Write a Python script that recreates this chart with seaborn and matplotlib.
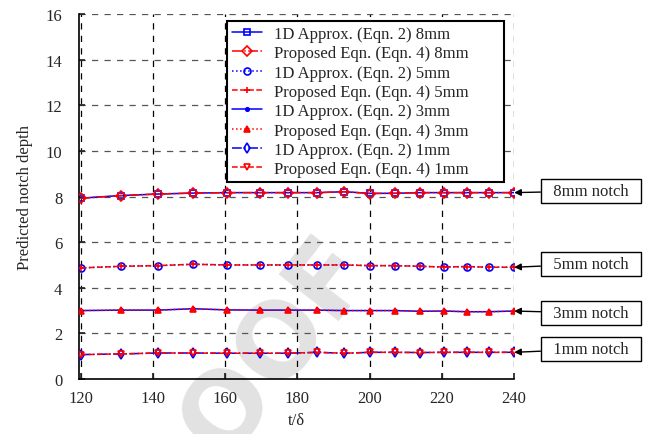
# Predicted notch depth vs t/delta for four notch sizes

import matplotlib
matplotlib.use("Agg")
import matplotlib.pyplot as plt
import seaborn as sns

# ── Data ───────────────────────────────────────────────────────
t_delta = [120, 131, 141.5, 151, 160.5, 169.5, 177.5, 185.5,
           193, 200, 207, 214, 220.5, 227, 233, 240]

d8_1d   = [7.93, 8.04, 8.11, 8.15, 8.17, 8.17, 8.17, 8.17,
           8.21, 8.14, 8.14, 8.17, 8.17, 8.17, 8.17, 8.17]
d8_prop = [7.92, 8.04, 8.11, 8.15, 8.17, 8.17, 8.17, 8.17,
           8.21, 8.13, 8.14, 8.17, 8.17, 8.17, 8.17, 8.17]
d5_1d   = [4.87, 4.94, 4.97, 5.03, 5.00, 5.00, 5.00, 5.00,
           5.00, 4.97, 4.97, 4.94, 4.91, 4.93, 4.90, 4.90]
d5_prop = [4.87, 4.94, 4.97, 5.03, 5.00, 5.00, 5.00, 5.00,
           5.00, 4.97, 4.97, 4.94, 4.91, 4.93, 4.90, 4.90]
d3_1d   = [3.00, 3.02, 3.02, 3.08, 3.03, 3.02, 3.02, 3.02,
           3.00, 3.00, 3.00, 2.97, 2.98, 2.95, 2.95, 2.98]
d3_prop = [3.00, 3.02, 3.02, 3.08, 3.03, 3.02, 3.02, 3.02,
           3.00, 3.00, 3.00, 2.97, 2.98, 2.95, 2.95, 2.98]
d1_1d   = [1.07, 1.10, 1.14, 1.14, 1.13, 1.13, 1.13, 1.17,
           1.13, 1.17, 1.17, 1.16, 1.17, 1.17, 1.17, 1.17]
d1_prop = [1.07, 1.10, 1.14, 1.14, 1.13, 1.13, 1.13, 1.17,
           1.13, 1.17, 1.17, 1.16, 1.17, 1.17, 1.17, 1.17]

notch_labels = ["8mm notch", "5mm notch", "3mm notch", "1mm notch"]

# ── Style ──────────────────────────────────────────────────────
sns.set_theme(style="white")
plt.rcParams.update({
    "font.family": ["Liberation Serif", "DejaVu Serif"],
    "font.size": 12,
})

fig = plt.figure(figsize=(6.5, 4.35), dpi=100)
ax = fig.add_axes([0.1215, 0.1264, 0.6695, 0.8391])
ax.set_zorder(1)
ax.patch.set_alpha(0)

# faint watermark behind everything
fig.text(0.351, 0.069, "PROOF", rotation=52, fontsize=74,
         fontweight="bold", family="DejaVu Sans", color="#e2e2e2",
         ha="center", va="center", zorder=0)

series = [
    (d8_1d,   "1D Approx. (Eqn. 2) 8mm",       "blue", "-",  "s", "none"),
    (d8_prop, "Proposed Eqn. (Eqn. 4) 8mm",    "red",  "-.", "D", "none"),
    (d5_1d,   "1D Approx. (Eqn. 2) 5mm",       "blue", ":",  "o", "none"),
    (d5_prop, "Proposed Eqn. (Eqn. 4) 5mm",    "red",  "--", "+", "red"),
    (d3_1d,   "1D Approx. (Eqn. 2) 3mm",       "blue", "-",  ".", "blue"),
    (d3_prop, "Proposed Eqn. (Eqn. 4) 3mm",    "red",  ":",  "^", "red"),
    (d1_1d,   "1D Approx. (Eqn. 2) 1mm",       "blue", "-.", "d", "none"),
    (d1_prop, "Proposed Eqn. (Eqn. 4) 1mm",    "red",  "--", "v", "none"),
]

for vals, lab, col, ls, mk, fc in series:
    sns.lineplot(x=t_delta, y=vals, ax=ax, color=col, linestyle=ls,
                 marker=mk, markersize=5, markerfacecolor=fc,
                 markeredgecolor=col, markeredgewidth=1.2, linewidth=1.1,
                 label=lab, zorder=3)

ax.set_xlim(119.5, 240)
ax.set_ylim(0, 16)
ax.set_xticks(range(120, 241, 20))
ax.set_yticks(range(0, 17, 2))
ax.set_xlabel("t/δ", fontsize=12, labelpad=4)
ax.set_ylabel("Predicted notch depth", fontsize=12, labelpad=9)
ax.tick_params(direction="in", length=4, labelsize=12, left=True, bottom=True)
ax.tick_params(axis="y", pad=12)
ax.tick_params(axis="x", pad=8)

# dashed grid
ax.xaxis.grid(True, color="black", linestyle=(0, (5, 5)), linewidth=0.9)
ax.yaxis.grid(True, color="#555555", linestyle=(0, (5, 5)), linewidth=0.9)
ax.set_axisbelow(True)
for side in ["top", "right"]:
    ax.spines[side].set_visible(False)
for side in ["left", "bottom"]:
    ax.spines[side].set_color("black")
    ax.spines[side].set_linewidth(1.2)

# legend box stretched to the reference width (extra room on the right)
leg = ax.legend(loc="upper left", bbox_to_anchor=(0.340, 0.537, 0.637, 0.444),
                mode="expand", borderaxespad=0, fontsize=12, frameon=True,
                fancybox=False, framealpha=1, edgecolor="black",
                handlelength=1.8, labelspacing=0.2, borderpad=0.3,
                handletextpad=0.7)
leg.get_frame().set_linewidth(1.5)

# notch call-outs
end_vals = [d8_1d[-1], d5_1d[-1], d3_1d[-1], d1_1d[-1]]
label_y = [192, 265, 314, 350]
for txt, yv, py in zip(notch_labels, end_vals, label_y):
    ax.annotate("  " + txt + "  ", xy=(t_delta[-1], yv), xycoords="data",
                xytext=(591 / 650, 1 - py / 435), textcoords="figure fraction",
                ha="center", va="center", fontsize=12,
                bbox=dict(boxstyle="square,pad=0.25", fc="white", ec="black", lw=1),
                arrowprops=dict(arrowstyle="-|>", color="black", lw=1,
                                shrinkA=0, shrinkB=0, mutation_scale=10),
                annotation_clip=False)

fig.savefig("out.png", dpi=100)
